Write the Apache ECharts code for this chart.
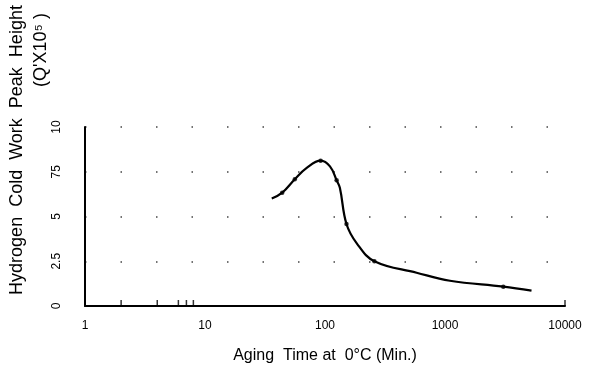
<!DOCTYPE html>
<html><head><meta charset="utf-8">
<script src="https://cdn.jsdelivr.net/npm/echarts@6/dist/echarts.min.js"></script>
<style>html,body{margin:0;padding:0;background:#fff}#c{width:601px;height:367px}</style>
</head><body><div id="c"></div>
<script>
var agingTime = [36, 44, 56, 70, 92, 110, 125, 133, 151, 184, 258, 580, 1100, 3060, 5260];
var peakHeight = [6.0, 6.33, 7.08, 7.7, 8.12, 7.8, 7.02, 6.6, 4.58, 3.5, 2.5, 1.86, 1.41, 1.08, 0.86];
var markerTime = [44, 56, 92, 125, 151, 258, 3060];
var markerHeight = [6.33, 7.08, 8.12, 7.02, 4.58, 2.5, 1.08];
var minorTicks = [2, 4, 6, 7, 8, 10000];
var yTickLabels = ['0', '2.5', '5', '75', '10'];
var xTickLabels = {1: '1', 10: '10', 100: '100', 1000: '1000', 10000: '10000'};

var chart = echarts.init(document.getElementById('c'), null, {renderer: 'canvas'});
var font = 'Liberation Sans, Arial, sans-serif';
chart.setOption({
  animation: false,
  backgroundColor: '#fff',
  grid: {left: 85, right: 36, top: 127, bottom: 61},
  xAxis: {
    type: 'log', logBase: 10, min: 1, max: 10000,
    axisLine: {lineStyle: {color: '#000', width: 2}},
    axisTick: {show: false},
    splitLine: {show: false},
    axisLabel: {color: '#000', fontFamily: font, fontSize: 12, margin: 14,
      formatter: function (v) { return xTickLabels[Math.round(v)] || ''; }},
    name: 'Aging  Time at  0°C (Min.)', nameLocation: 'middle', nameGap: 42,
    nameTextStyle: {color: '#000', fontFamily: font, fontSize: 16}
  },
  yAxis: {
    type: 'value', min: 0, max: 10, interval: 2.5,
    axisLine: {show: true, lineStyle: {color: '#000', width: 2}},
    axisTick: {show: false},
    splitLine: {show: true, lineStyle: {color: '#444', width: 1.5, type: [1.5, 34], dashOffset: 0}},
    axisLabel: {color: '#000', fontFamily: font, fontSize: 12, rotate: 90, margin: 22,
      formatter: function (v) { return yTickLabels[Math.round(v / 2.5)]; }}
  },
  graphic: [
    {type: 'text', x: 17, y: 150, rotation: Math.PI / 2, style: {text: 'Hydrogen  Cold  Work  Peak  Height', fill: '#000', font: '18px ' + font, align: 'center', verticalAlign: 'middle'}},
    {type: 'text', x: 41, y: 50, rotation: Math.PI / 2, style: {text: "(Q'X10⁵ )", fill: '#000', font: '18px ' + font, align: 'center', verticalAlign: 'middle'}}
  ],
  series: [
    {type: 'line', data: agingTime.map(function (t, i) { return [t, peakHeight[i]]; }),
      smooth: 0.4, showSymbol: false, lineStyle: {color: '#000', width: 2.2}},
    {type: 'scatter', data: markerTime.map(function (t, i) { return [t, markerHeight[i]]; }),
      symbol: 'circle', symbolSize: 4.5, itemStyle: {color: '#000'}},
    {type: 'scatter', data: minorTicks.map(function (t) { return [t, 0]; }),
      symbol: 'rect', symbolSize: [1.5, 6], symbolOffset: [0, -3], itemStyle: {color: '#000'}}
  ]
});
</script></body></html>
